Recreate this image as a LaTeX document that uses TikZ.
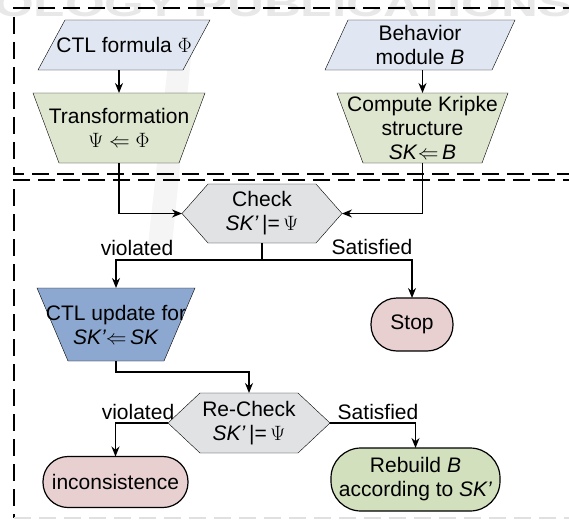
\documentclass[tikz,border=0pt]{standalone}
\usepackage{fontspec}
\setmainfont{Liberation Sans}
\usetikzlibrary{arrows.meta,backgrounds,calc}
\definecolor{cblue}{HTML}{E1E7F2}
\definecolor{cgreen}{HTML}{DEE6CF}
\definecolor{cgreenb}{HTML}{D3E0BE}
\definecolor{cgray}{HTML}{E0E2E3}
\definecolor{cdblue}{HTML}{8DA8D0}
\definecolor{cpink}{HTML}{E8D0D1}
\begin{document}
\begin{tikzpicture}[x=1pt,y=-1pt,line width=1.2pt,
  txt/.style={inner sep=0pt,outer sep=0pt,align=center,font=\fontsize{21}{24}\selectfont},
  arr/.style={-{Stealth[length=10pt,width=8pt]}},
  frame/.style={dash pattern=on 17pt off 8pt,line width=1.2pt}]
\useasboundingbox (0,0) rectangle (569,519);
% nodes
\node[txt,minimum width=172pt,minimum height=50pt] (ctl) at (124,45) {CTL formula $\Phi$};
\node[txt,minimum width=190pt,minimum height=50pt] (beh) at (420,45) {Behavior\\module \textit{B}};
\node[txt,minimum width=172pt,minimum height=70pt] (tr) at (119,128) {Transformation\\$\Psi\Leftarrow\Phi$};
\node[txt,minimum width=171pt,minimum height=70pt] (kr) at (422.5,128) {Compute Kripke\\structure\\\textit{SK}$\Leftarrow$\,\textit{B}};
\node[txt,minimum width=160pt,minimum height=59pt] (chk) at (262,213.5) {Check\\\textit{SK'}\,|=\,$\Psi$};
\node[txt,minimum width=158pt,minimum height=73pt] (upd) at (116,324.5) {CTL update for\\\textit{SK'}$\Leftarrow$\,\textit{SK}};
\node[txt,draw,fill=cpink,rounded corners=26pt,minimum width=82pt,minimum height=53pt] (stop) at (412,324.5) {Stop};
\node[txt,minimum width=162pt,minimum height=60pt] (rchk) at (249,423) {Re-Check\\\textit{SK'}\,|=\,$\Psi$};
\node[txt,draw,fill=cpink,rounded corners=25pt,minimum width=145pt,minimum height=51pt] (inc) at (115.5,482) {inconsistence};
\node[txt,draw,fill=cgreenb,rounded corners=30pt,minimum width=169pt,minimum height=63pt] (reb) at (415.5,479.5) {Rebuild \textit{B}\\according to \textit{SK'}};
% labels
\node[txt] (v1) at (137,248) {violated};
\node[txt] (s1) at (372,247) {Satisfied};
\node[txt] (v2) at (138,412) {violated};
\node[txt] (s2) at (378,412) {Satisfied};
% connectors
\draw[arr] (ctl.south -| tr.north) -- (tr.north);
\draw[arr] (beh.south -| kr.north) -- (kr.north);
\draw[arr] (tr.south) |- (chk.west);
\draw[arr] (kr.south) |- (chk.east);
\coordinate (j1) at ($(chk.south)+(0,17)$);
\draw (chk.south) -- (j1);
\draw[arr] (j1) -| (upd.north);
\draw[arr] (j1) -| (stop.north);
\draw[arr] (upd.south) -- ++(0,11) -| (rchk.north);
\draw[arr] (rchk.west) -| (inc.north);
\draw[arr] (rchk.east) -| (reb.north);
\begin{scope}[on background layer]
\node[anchor=base west,text=black!9,inner sep=0pt,font=\fontsize{36}{36}\bfseries] (wm) at (-6,17) {\scalebox{1.42}[1]{OLOGY PUBLICATIONS}};
\fill[black!4] (172,28) -- (194,28) -- (172,245) -- (148,245) -- cycle;
\draw[frame] (580,8) -- (14,8) -- (14,174) -- (580,174);
\draw[frame] (580,180) -- (14,180) -- (14,518);
\draw[frame,black!12] (14,518) -- (580,518);
\draw[fill=cblue] ([xshift=27pt]ctl.north west) -- (ctl.north east) -- ([xshift=-27pt]ctl.south east) -- (ctl.south west) -- cycle;
\draw[fill=cblue] ([xshift=23pt]beh.north west) -- (beh.north east) -- ([xshift=-23pt]beh.south east) -- (beh.south west) -- cycle;
\draw[fill=cgreen] (tr.north west) -- (tr.north east) -- ([xshift=-26pt]tr.south east) -- ([xshift=26pt]tr.south west) -- cycle;
\draw[fill=cgreen] (kr.north west) -- (kr.north east) -- ([xshift=-26pt]kr.south east) -- ([xshift=26pt]kr.south west) -- cycle;
\draw[fill=cdblue] (upd.north west) -- (upd.north east) -- ([xshift=-31pt]upd.south east) -- ([xshift=31pt]upd.south west) -- cycle;
\draw[fill=cgray] (chk.west) -- ([xshift=26pt]chk.north west) -- ([xshift=-26pt]chk.north east) -- (chk.east) -- ([xshift=-26pt]chk.south east) -- ([xshift=26pt]chk.south west) -- cycle;
\draw[fill=cgray] (rchk.west) -- ([xshift=32pt]rchk.north west) -- ([xshift=-32pt]rchk.north east) -- (rchk.east) -- ([xshift=-32pt]rchk.south east) -- ([xshift=32pt]rchk.south west) -- cycle;
\end{scope}
\end{tikzpicture}
\end{document}
